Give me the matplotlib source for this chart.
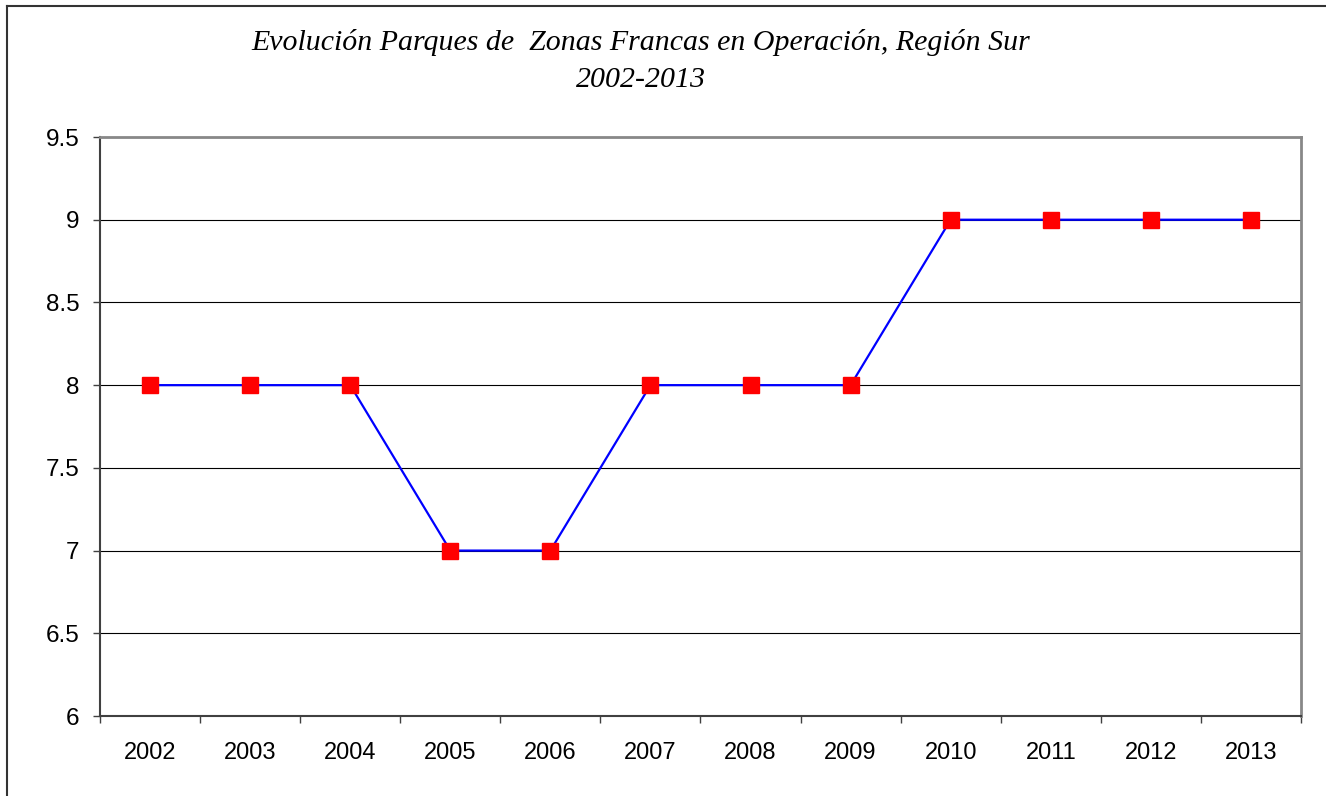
import matplotlib
matplotlib.use("Agg")
import matplotlib.pyplot as plt
from matplotlib.lines import Line2D

years = ["2002", "2003", "2004", "2005", "2006", "2007",
         "2008", "2009", "2010", "2011", "2012", "2013"]
parques = [8, 8, 8, 7, 7, 8, 8, 8, 9, 9, 9, 9]
yticks = [6, 6.5, 7, 7.5, 8, 8.5, 9, 9.5]
ylabels = ["6", "6.5", "7", "7.5", "8", "8.5", "9", "9.5"]

fig = plt.figure(figsize=(13.26, 7.96), dpi=100)
ax = fig.add_axes([100 / 1326, 1 - 716 / 796, 1201 / 1326, 579 / 796])

x = list(range(len(years)))
ax.plot(x, parques, color="#0000ff", lw=1.6, marker="s", ms=11,
        mfc="#ff0000", mec="#ff0000", zorder=3, clip_on=False)

ax.set_xlim(-0.5, len(years) - 0.5)
ax.set_ylim(6, 9.5)
ax.set_yticks(yticks)
ax.set_yticklabels(ylabels, fontsize=17.5, family="Liberation Sans")
ax.yaxis.grid(True, color="black", lw=0.8)
ax.set_axisbelow(True)

# categories centred, ticks on the boundaries
ax.set_xticks([i - 0.5 for i in range(len(years) + 1)])
ax.set_xticklabels([])
ax.set_xticks(x, minor=True)
ax.set_xticklabels(years, minor=True, fontsize=17, family="Liberation Sans")
ax.tick_params(axis="x", which="major", length=5, width=1, color="#404040")
ax.tick_params(axis="x", which="minor", length=0, pad=19)
ax.tick_params(axis="y", length=5, width=1, color="#404040", pad=10)

for s in ["left", "bottom"]:
    ax.spines[s].set_color("#404040")
    ax.spines[s].set_linewidth(1.5)
for s in ["top", "right"]:
    ax.spines[s].set_color("#888888")
    ax.spines[s].set_linewidth(2)

fig.text(641 / 1326, 1 - 42 / 796,
         "Evolución Parques de  Zonas Francas en Operación, Región Sur",
         ha="center", va="center", fontsize=21.5, style="italic",
         family="Liberation Serif")
fig.text(641 / 1326, 1 - 80 / 796, "2002-2013",
         ha="center", va="center", fontsize=21.5, style="italic",
         family="Liberation Serif")

# outer chart frame (only top and left edges visible)
fig.add_artist(Line2D([7 / 1326, 7 / 1326], [0, 1 - 6 / 796],
                      transform=fig.transFigure, color="#333333", lw=1.5))
fig.add_artist(Line2D([7 / 1326, 1], [1 - 6 / 796, 1 - 6 / 796],
                      transform=fig.transFigure, color="#333333", lw=1.5))

fig.savefig("out.png", dpi=100)
